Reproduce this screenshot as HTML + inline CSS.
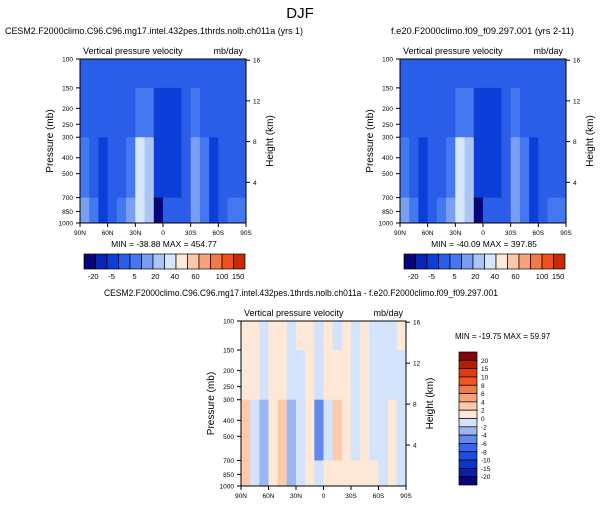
<!DOCTYPE html>
<html><head><meta charset="utf-8"><style>
body{margin:0;background:#fff;font-family:"Liberation Sans",sans-serif}
svg text{font-family:"Liberation Sans",sans-serif}
</style></head><body>
<svg id="s" width="601" height="505" xmlns="http://www.w3.org/2000/svg">
<text x="300" y="18" font-size="15" text-anchor="middle">DJF</text>
</svg>
<script>
// data
const lats=[90,80,70,60,50,40,30,20,10,0,-10,-20,-30,-40,-50,-60,-70,-80,-90];
const layers=[100,150,300,700,1000];
const presTicks=[100,150,200,250,300,400,500,700,850,1000];
const hgtTicks=[4,8,12,16];
const latLabels=['90N','60N','30N','0','30S','60S','90S'];
const topBounds=[-20,-15,-10,-5,0,5,10,20,40,60,80,100,150];
const topColors=['#06067a','#0a26b0','#0c3ed8','#2a5ee8','#4478f0','#7a9ef2','#aec6f6','#d6e6fc','#fde9d8','#fbc8aa','#f8a27a','#f27a44','#f24e1e','#c42a08','#7e0a0a'];
const diffBounds=[-20,-15,-10,-8,-6,-4,-2,0,2,4,6,8,10,15,20];
const diffColors=['#06067a','#0a22a0','#0c36c8','#1a4ee6','#3466f0','#6088ee','#9cb6f2','#d2e3fb','#fde8d8','#fbc9ab','#f7a37c','#f27a44','#f2551f','#e23a0a','#b21e06','#7e0a0a'];
// values per lat band [100-150,150-300,300-700,700-1000]
const fieldA=[[-7,-7,-3,2],[-7,-7,-6,-3],[-7,-7,-12,-12],[-7,-7,-8,-8],[-7,-7,-6,-3],[-7,-6,-3,2],[-7,-2,12,12],[-7,-3,6,6],[-7,-12,-12,-22],[-7,-12,-12,-10],[-7,-12,-12,-6],[-7,-7,-7,-6],[-7,-3,2,2],[-7,-6,-3,-3],[-7,-7,-12,-12],[-7,-7,-8,-8],[-7,-7,-6,-3],[-7,-7,-6,-3]];
const fieldB=[[-7,-7,-3,2],[-7,-7,-6,-3],[-7,-7,-12,-12],[-7,-7,-8,-8],[-7,-7,-6,-3],[-7,-6,-3,2],[-7,-2,12,12],[-7,-3,6,6],[-7,-12,-12,-22],[-7,-12,-12,-10],[-7,-12,-12,-6],[-7,-7,-7,-6],[-7,-3,2,2],[-7,-6,-3,-3],[-7,-7,-12,-12],[-7,-7,-8,-8],[-7,-7,-6,-3],[-7,-7,-6,-3]];
const fieldD=[[1,1,3,3],[1,1,-1,-1],[-1,-1,-3,-3],[1,1,1,1],[1,1,3,3],[-1,-1,-3,-3],[1,-1,-1,-1],[1,1,1,1],[-1,-1,-5,-1],[1,1,-1,1],[-1,1,3,1],[1,1,1,1],[-1,-1,-1,1],[1,1,1,1],[-1,-1,-1,1],[-1,-1,-1,-1],[-1,-1,1,1],[1,-1,-1,-1]];
const minmax=[['MIN = -38.88','MAX = 454.77'],['MIN = -40.09','MAX = 397.85'],['MIN = -19.75','MAX = 59.97']];
const topCbLabels=['-20','-5','5','20','40','60','100','150'];
const topCbPos=[0.8,2.4,4.4,6.2,7.9,9.7,12,13.4];
const diffCbLabels=['20','15','10','8','6','4','2','0','-2','-4','-6','-8','-10','-15','-20'];

const s=document.getElementById('s');
const NS='http://www.w3.org/2000/svg';
function mk(tag,attrs,parent){const e=document.createElementNS(NS,tag);for(const k in attrs)e.setAttribute(k,attrs[k]);(parent||s).appendChild(e);return e;}
function txt(x,y,t,size,anchor,parent,rot){const e=mk('text',{x:x,y:y,'font-size':size,'text-anchor':anchor||'middle'},parent);if(rot)e.setAttribute('transform','rotate(-90 '+x+' '+y+')');e.textContent=t;return e;}
function colorFor(v,b,c){let i=0;while(i<b.length&&v>=b[i])i++;return c[i];}

function panel(px,py,W,H,field,bounds,colors,title,tx,tw,name){
  const g=mk('g',{});
  
  
  const xS=lat=>px+(90-lat)/180*W;
  const yS=p=>py+Math.log10(p/100)*H;
  for(let i=0;i<lats.length-1;i++){for(let j=0;j<layers.length-1;j++){
    const r=mk('rect',{x:xS(lats[i]),y:yS(layers[j]),width:xS(lats[i+1])-xS(lats[i])+0.5,height:yS(layers[j+1])-yS(layers[j])+0.5,fill:colorFor(field[i][j],bounds,colors)},g);
    
    
  }}
  mk('rect',{x:px,y:py,width:W,height:H,fill:'none',stroke:'#000','stroke-width':1},g);
  const t=mk('text',{x:tx,y:py-25,'font-size':9.5,'text-anchor':'start',textLength:tw,lengthAdjust:'spacingAndGlyphs'},g);
  t.textContent=title;
  
  txt(px+3,py-5,'Vertical pressure velocity',9,'start',g);
  txt(px+W-3,py-5,'mb/day',9,'end',g);
  presTicks.forEach(p=>{const y=yS(p);mk('line',{x1:px-4,x2:px,y1:y,y2:y,stroke:'#000'},g);txt(px-7,y+2.5,p,6.5,'end',g);});
  hgtTicks.forEach(h=>{const p=1000*Math.exp(-h/7);const y=yS(p);mk('line',{x1:px+W,x2:px+W+4,y1:y,y2:y,stroke:'#000'},g);txt(px+W+7,y+2.5,h,6.5,'start',g);});
  latLabels.forEach((l,i)=>{const x=px+i*W/6;mk('line',{x1:x,x2:x,y1:py+H,y2:py+H+4,stroke:'#000'},g);txt(x,py+H+12,l,6.5,'middle',g);});
  const yl=txt(px-27,py+H/2,'Pressure (mb)',10,'middle',g,true);
  
  const yr=txt(px+W+27,py+H/2,'Height (km)',10,'middle',g,true);
  
}
panel(80,59,166,164,fieldA,topBounds,topColors,'CESM2.F2000climo.C96.C96.mg17.intel.432pes.1thrds.nolb.ch011a (yrs 1)',5,298,'panel-test');
panel(400,59,166,164,fieldB,topBounds,topColors,'f.e20.F2000climo.f09_f09.297.001 (yrs 2-11)',391,183,'panel-control');
panel(241,321,165,165,fieldD,diffBounds,diffColors,'CESM2.F2000climo.C96.C96.mg17.intel.432pes.1thrds.nolb.ch011a - f.e20.F2000climo.f09_f09.297.001',104,394,'panel-difference');

[[84,'left'],[404,'right']].forEach(([cx,nm],k)=>{
  const m=txt(cx+80,247,minmax[k][0]+'  '+minmax[k][1],8.5,'middle');
  
  const g=mk('g',{});
  
  
  const bw=161/14;
  for(let i=0;i<14;i++){mk('rect',{x:cx+i*bw,y:254,width:bw,height:15,fill:topColors[i],stroke:'#000','stroke-width':0.7},g);}
  topCbLabels.forEach((l,i)=>txt(cx+topCbPos[i]*bw,279,l,7.5,'middle',g));
});
const m3=txt(455,339,minmax[2][0]+'  '+minmax[2][1],8,'start');

const gd=mk('g',{});


const bh=133/16;
for(let i=0;i<16;i++){mk('rect',{x:459,y:352+i*bh,width:18,height:bh,fill:diffColors[15-i],stroke:'#000','stroke-width':0.7},gd);}
diffCbLabels.forEach((l,i)=>txt(481,352+(i+1)*bh+2.5,l,6.5,'start',gd));
</script>
</body></html>
